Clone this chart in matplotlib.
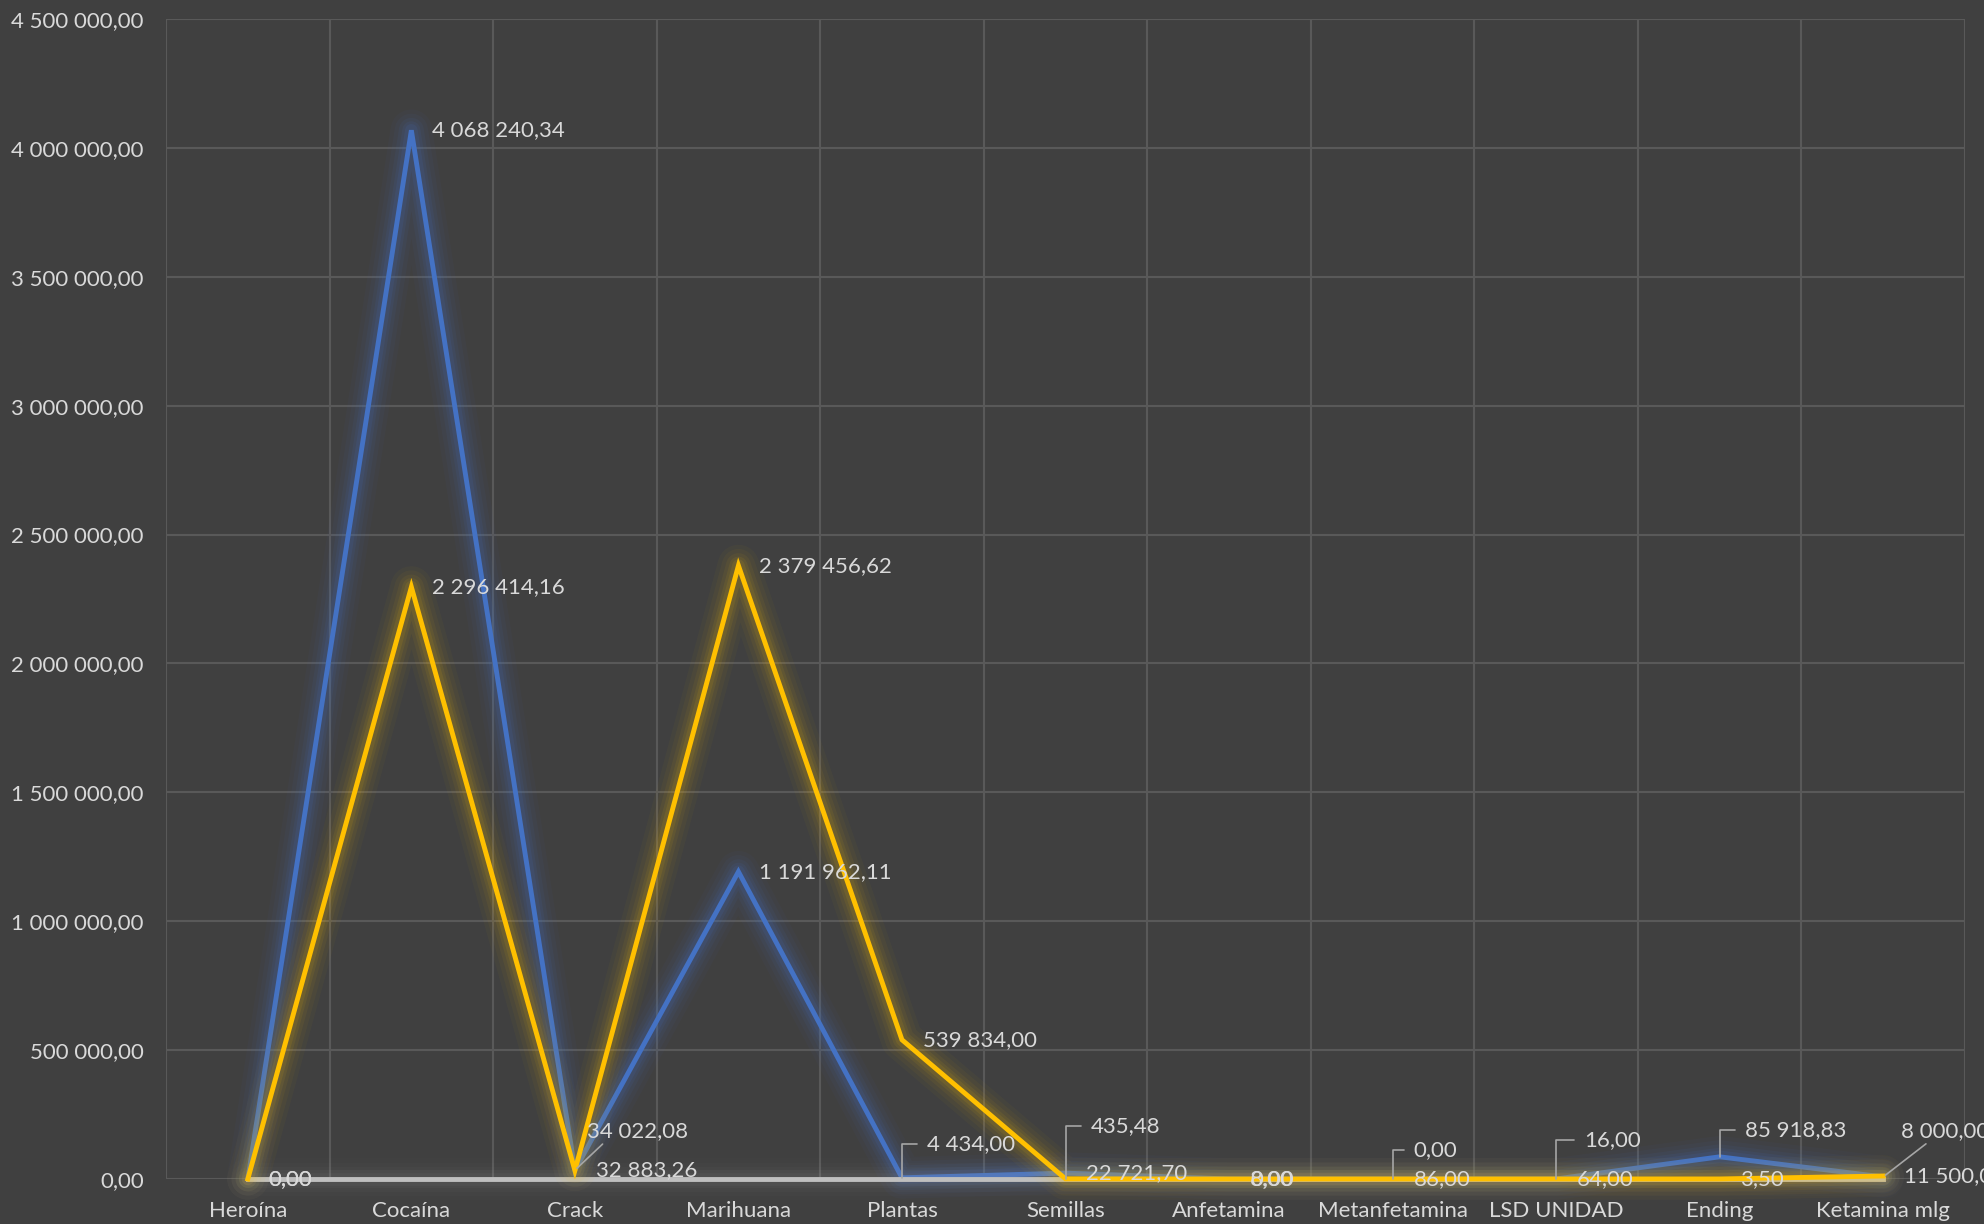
import matplotlib
matplotlib.use("Agg")
import matplotlib.pyplot as plt
import matplotlib.patheffects as pe
from matplotlib.ticker import FuncFormatter, MultipleLocator

categories = ["Heroína", "Cocaína", "Crack", "Marihuana", "Plantas", "Semillas",
              "Anfetamina", "Metanfetamina", "LSD UNIDAD", "Ending", "Ketamina mlg"]
blue_vals = [0.00, 4068240.34, 34022.08, 1191962.11, 4434.00, 22721.70,
             0.00, 0.00, 16.00, 85918.83, 8000.00]
yellow_vals = [0.00, 2296414.16, 32883.26, 2379456.62, 539834.00, 435.48,
               8.00, 86.00, 64.00, 3.50, 11500.00]
gray_vals = [0.0] * len(categories)

BG = "#404040"
GRID = "#595959"
TXT = "#D9D9D9"
LEAD = "#A6A6A6"
FONT = "Lato"

# label placement for each point: None -> right of point, else (dx, dy, style, relx)
blue_lab = [None, None, (9, 28, "slant", 0.2), None, (18, 24, "elbow", 0), None,
            None, (15, 21, "elbow", 0), (20, 28, "elbow", 0), (18, 19, "elbow", 0),
            (13, 33, "slant", 0.35)]
yellow_lab = [None, None, None, None, None, (18, 38, "elbow", 0),
              None, None, None, None, None]


def fmt(v, pos=None):
    return f"{v:,.2f}".replace(",", " ").replace(".", ",")


def glow(color, a=1.0):
    out = []
    for w, al in [(30, 0.03), (24, 0.04), (18, 0.05), (13, 0.07), (9, 0.09)]:
        out.append(pe.Stroke(linewidth=w, foreground=color, alpha=al * a,
                             joinstyle="round", capstyle="round"))
    out.append(pe.Normal())
    return out


fig = plt.figure(figsize=(19.84, 12.24), dpi=100, facecolor=BG)
ax = fig.add_axes([0.0837, 0.0368, 0.9067, 0.9477], facecolor=BG)

x = list(range(len(categories)))
ax.plot(x, blue_vals, color="#4472C4", lw=3.5, solid_joinstyle="miter",
        path_effects=glow("#4472C4", 1.3), zorder=3, clip_on=False)
ax.plot(x, gray_vals, color="#BFBFBF", lw=3.5, path_effects=glow("#A5A5A5", 0.7),
        zorder=4, clip_on=False)
ax.plot(x, yellow_vals, color="#FFC000", lw=3.5, solid_joinstyle="miter",
        path_effects=glow("#FFC000"), zorder=5, clip_on=False)

ax.set_xlim(-0.5, len(categories) - 0.5)
ax.set_ylim(0, 4500000)
ax.yaxis.set_major_locator(MultipleLocator(500000))
ax.yaxis.set_major_formatter(FuncFormatter(fmt))
ax.set_xticks(x)
ax.set_xticklabels(categories)
ax.xaxis.set_minor_locator(MultipleLocator(1, offset=0.5))
ax.grid(True, axis="y", which="major", color=GRID, lw=1.5)
ax.grid(True, axis="x", which="minor", color=GRID, lw=1.5)
ax.tick_params(axis="both", which="both", length=0, colors=TXT, labelsize=16)
ax.tick_params(axis="y", pad=16)
ax.tick_params(axis="x", pad=16)
for lab in ax.get_xticklabels() + ax.get_yticklabels():
    lab.set_fontfamily(FONT)
for s in ax.spines.values():
    s.set_visible(False)
ax.set_axisbelow(True)


def label(xi, v, place):
    if place is None:
        ax.annotate(fmt(v), (xi, v), xytext=(15, 0), textcoords="offset points",
                    ha="left", va="center", color=TXT, fontsize=16,
                    family=FONT, zorder=7, annotation_clip=False)
        return
    dx, dy, style, relx = place
    if style == "elbow":
        arrow = dict(arrowstyle="-", color=LEAD, lw=1.2, relpos=(0, 0.5),
                     connectionstyle="angle,angleA=0,angleB=90,rad=0",
                     shrinkA=5, shrinkB=0)
    else:
        arrow = dict(arrowstyle="-", color=LEAD, lw=1.2, relpos=(relx, 0.1),
                     connectionstyle="arc3", shrinkA=0, shrinkB=2)
    ax.annotate(fmt(v), (xi, v), xytext=(dx, dy), textcoords="offset points",
                ha="left", va="center", color=TXT, fontsize=16, family=FONT,
                arrowprops=arrow, zorder=7, annotation_clip=False)


for i in x:
    label(i, blue_vals[i], blue_lab[i])
    label(i, yellow_vals[i], yellow_lab[i])

fig.savefig("out.png", dpi=100, facecolor=BG)
